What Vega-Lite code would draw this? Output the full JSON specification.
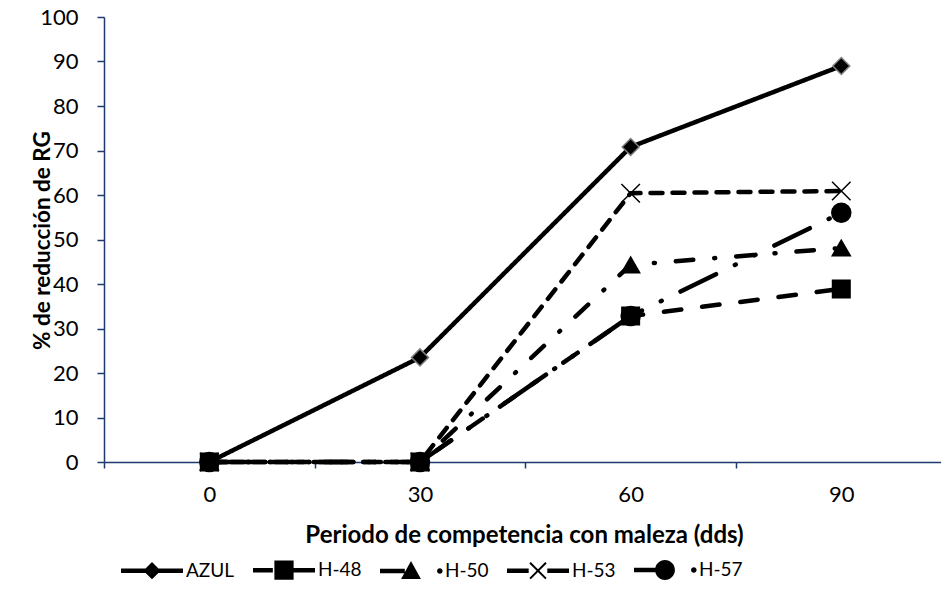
{
  "$schema": "https://vega.github.io/schema/vega-lite/v6.json",
  "width": 837,
  "height": 445,
  "autosize": "none",
  "padding": {"left": 104, "top": 17, "right": 0, "bottom": 135},
  "background": "white",
  "config": {
    "view": {"stroke": null},
    "font": "Lato",
    "axis": {
      "domainColor": "#1f3a6e",
      "domainWidth": 1.5,
      "tickColor": "#1f3a6e",
      "tickWidth": 1.5,
      "labelColor": "black",
      "titleColor": "black",
      "labelFontSize": 22,
      "titleFontSize": 24,
      "titleFontWeight": "bold",
      "grid": false
    }
  },
  "data": {
    "values": [
      {"hibrido": "AZUL", "dias": 0, "reduccion": 0},
      {"hibrido": "AZUL", "dias": 30, "reduccion": 23.5},
      {"hibrido": "AZUL", "dias": 60, "reduccion": 70.8},
      {"hibrido": "AZUL", "dias": 90, "reduccion": 89.0},
      {"hibrido": "H-50", "dias": 0, "reduccion": 0},
      {"hibrido": "H-50", "dias": 30, "reduccion": 0},
      {"hibrido": "H-50", "dias": 60, "reduccion": 44.3},
      {"hibrido": "H-50", "dias": 90, "reduccion": 48.1},
      {"hibrido": "H-53", "dias": 0, "reduccion": 0},
      {"hibrido": "H-53", "dias": 30, "reduccion": 0},
      {"hibrido": "H-53", "dias": 60, "reduccion": 60.4},
      {"hibrido": "H-53", "dias": 90, "reduccion": 60.9},
      {"hibrido": "H-57", "dias": 0, "reduccion": 0},
      {"hibrido": "H-57", "dias": 30, "reduccion": 0},
      {"hibrido": "H-57", "dias": 60, "reduccion": 32.8},
      {"hibrido": "H-57", "dias": 90, "reduccion": 56.0},
      {"hibrido": "H-48", "dias": 0, "reduccion": 0},
      {"hibrido": "H-48", "dias": 30, "reduccion": 0},
      {"hibrido": "H-48", "dias": 60, "reduccion": 32.8},
      {"hibrido": "H-48", "dias": 90, "reduccion": 38.9}
    ]
  },
  "encoding": {
    "x": {
      "field": "dias",
      "type": "quantitative",
      "scale": {"domain": [-15, 104.2], "nice": false, "zero": false},
      "axis": {
        "values": [-15, 0, 15, 30, 45, 60, 75, 90],
        "labelExpr": "datum.value % 30 == 0 ? datum.label : ''",
        "tickOpacity": {"condition": {"test": "datum.value % 30 == 0", "value": 0}, "value": 1},
        "tickSize": 6,
        "labelPadding": 16,
        "labelOverlap": false,
        "labelFlush": false,
        "title": "Periodo de competencia con maleza (dds)",
        "titleX": 420,
        "titleY": 73,
        "titleAlign": "center",
        "titleBaseline": "middle"
      }
    },
    "y": {
      "field": "reduccion",
      "type": "quantitative",
      "scale": {"domain": [0, 100], "nice": false},
      "axis": {
        "values": [0, 10, 20, 30, 40, 50, 60, 70, 80, 90, 100],
        "tickSize": 7,
        "labelPadding": 19,
        "title": "% de reducción de RG",
        "titleFontSize": 22.5,
        "titleX": -62,
        "titleY": 223,
        "titleAngle": 270,
        "titleAlign": "center",
        "titleBaseline": "middle"
      }
    }
  },
  "layer": [
    {
      "mark": {"type": "line", "color": "black", "strokeWidth": 4.5, "strokeCap": "round", "strokeJoin": "round"},
      "encoding": {
        "strokeDash": {
          "field": "hibrido",
          "type": "nominal",
          "scale": {
            "domain": ["AZUL", "H-48", "H-50", "H-53", "H-57"],
            "range": [[1, 0], [17.5, 21], [17.5, 21, 1, 21], [12, 10], [39.5, 21, 1, 21, 1, 21]]
          },
          "legend": null
        }
      }
    },
    {
      "mark": {"type": "point", "filled": true, "color": "black", "strokeWidth": 1.5, "opacity": 1},
      "encoding": {
        "shape": {
          "field": "hibrido",
          "type": "nominal",
          "scale": {
            "domain": ["AZUL", "H-48", "H-50", "H-53", "H-57"],
            "range": ["diamond", "square", "triangle-up", "M-1,-1L1,1M-1,1L1,-1", "circle"]
          },
          "legend": null
        },
        "size": {
          "field": "hibrido",
          "type": "nominal",
          "scale": {
            "domain": ["AZUL", "H-48", "H-50", "H-53", "H-57"],
            "range": [289, 361, 400, 324, 346]
          },
          "legend": null
        },
        "stroke": {
          "condition": {"test": "datum.hibrido === 'AZUL'", "value": "#7f7f7f"},
          "value": "black"
        }
      }
    },
    {
      "mark": {"type": "point", "filled": true, "color": "black", "opacity": 0, "size": 3844},
      "encoding": {
        "shape": {
          "field": "hibrido",
          "type": "nominal",
          "scale": {
            "domain": ["AZUL", "H-48", "H-50", "H-53", "H-57"],
            "range": [
              "M-1,-0.073H1V0.073H-1Z M0,-0.28L0.28,0L0,0.28L-0.28,0Z",
              "M-1,-0.073H-0.36V0.073H-1Z M-0.31,-0.31H0.31V0.31H-0.31Z M0.31,-0.073H1V0.073H0.31Z",
              "M-1,-0.073H-0.2V0.073H-1Z M0,-0.32L0.32,0.26L-0.32,0.26Z M0.84,0A0.09,0.09 0 1,1 1.02,0A0.09,0.09 0 1,1 0.84,0Z",
              "M-1,-0.073H-0.3V0.073H-1Z M0.3,-0.073H1V0.073H0.3Z M-0.234,-0.279L0.279,0.234L0.234,0.279L-0.279,-0.234Z M0.279,-0.234L-0.234,0.279L-0.279,0.234L0.234,-0.279Z",
              "M-1,-0.073H0V0.073H-1Z M-0.32,0A0.32,0.32 0 1,1 0.32,0A0.32,0.32 0 1,1 -0.32,0Z M0.84,0A0.09,0.09 0 1,1 1.02,0A0.09,0.09 0 1,1 0.84,0Z"
            ]
          },
          "legend": {
            "title": null,
            "orient": "none",
            "legendX": 16,
            "legendY": 521,
            "direction": "horizontal",
            "columns": 5,
            "symbolSize": 3844,
            "labelFontSize": 19,
            "labelColor": "black",
            "labelOffset": 2,
            "columnPadding": 15,
            "padding": 0,
            "encode": {
              "symbols": {
                "update": {
                  "fill": {"value": "black"},
                  "stroke": {"value": "transparent"},
                  "strokeWidth": {"value": 0},
                  "opacity": {"value": 1}
                }
              }
            }
          }
        }
      }
    }
  ],
  "resolve": {"scale": {"shape": "independent"}}
}
